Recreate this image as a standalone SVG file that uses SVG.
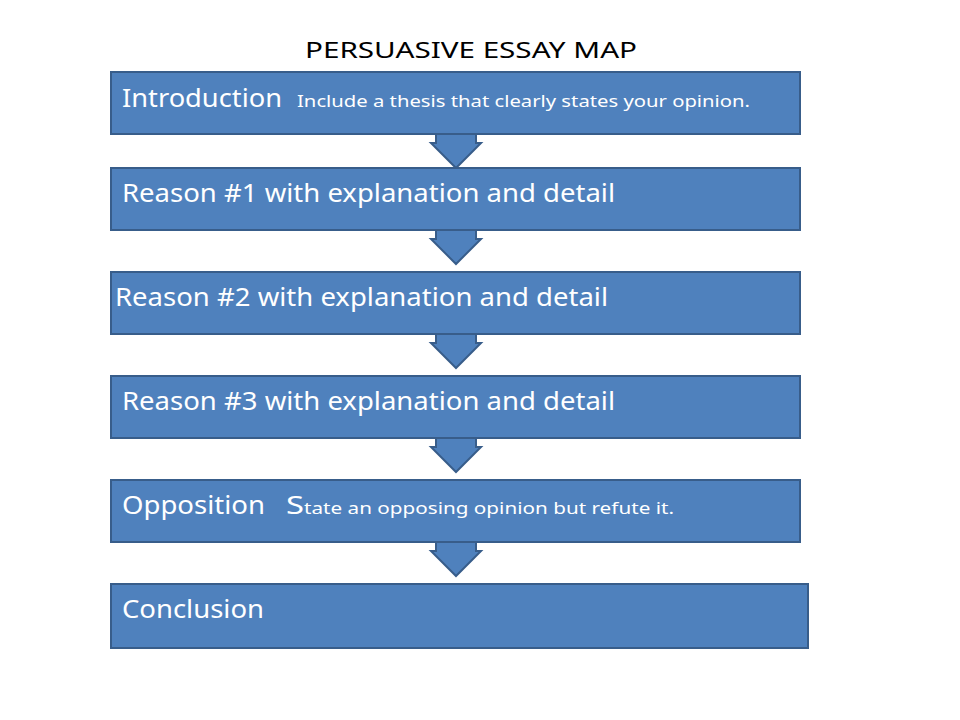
<svg xmlns="http://www.w3.org/2000/svg" width="960" height="720" viewBox="0 0 960 720">
<style>
.b{fill:#4F81BD;stroke:#385D8A;stroke-width:2}
.a{fill:#4F81BD;stroke:#385D8A;stroke-width:2}
text{font-family:"Noto Sans","Open Sans",sans-serif;fill:#fff;font-size:25px}
.s{font-size:17px}
.t{fill:#000;font-size:22px}
</style>
<rect width="960" height="720" fill="#fff"/>
<text class="t" x="471" y="58" text-anchor="middle" textLength="332" lengthAdjust="spacingAndGlyphs">PERSUASIVE  ESSAY  MAP</text>
<g id="connectors">
<path class="a" d="M436,134 V143 H431 L456,168 L481,143 H476 V134"/>
<path class="a" d="M436,230 V239 H431 L456,264 L481,239 H476 V230"/>
<path class="a" d="M436,334 V343 H431 L456,368 L481,343 H476 V334"/>
<path class="a" d="M436,438 V447 H431 L456,472 L481,447 H476 V438"/>
<path class="a" d="M436,542 V551 H431 L456,576 L481,551 H476 V542"/>
</g>
<g id="n1"><rect class="b" x="111" y="72" width="689" height="62"/>
<text x="122" y="107" textLength="160" lengthAdjust="spacingAndGlyphs">Introduction</text>
<text class="s" x="297" y="107" textLength="453" lengthAdjust="spacingAndGlyphs">Include a thesis that clearly states your opinion.</text></g>
<g id="n2"><rect class="b" x="111" y="168" width="689" height="62"/>
<text x="122" y="202" textLength="493" lengthAdjust="spacingAndGlyphs">Reason #1 with explanation and detail</text></g>
<g id="n3"><rect class="b" x="111" y="272" width="689" height="62"/>
<text x="115" y="306" textLength="493" lengthAdjust="spacingAndGlyphs">Reason #2 with explanation and detail</text></g>
<g id="n4"><rect class="b" x="111" y="376" width="689" height="62"/>
<text x="122" y="410" textLength="493" lengthAdjust="spacingAndGlyphs">Reason #3 with explanation and detail</text></g>
<g id="n5"><rect class="b" x="111" y="480" width="689" height="62"/>
<text x="122" y="514" textLength="143" lengthAdjust="spacingAndGlyphs">Opposition</text>
<text x="286" y="514" textLength="18" lengthAdjust="spacingAndGlyphs">S</text>
<text class="s" x="304" y="514" textLength="370" lengthAdjust="spacingAndGlyphs">tate an opposing opinion but refute it.</text></g>
<g id="n6"><rect class="b" x="111" y="584" width="697" height="64"/>
<text x="122" y="618" textLength="142" lengthAdjust="spacingAndGlyphs">Conclusion</text></g>
</svg>
